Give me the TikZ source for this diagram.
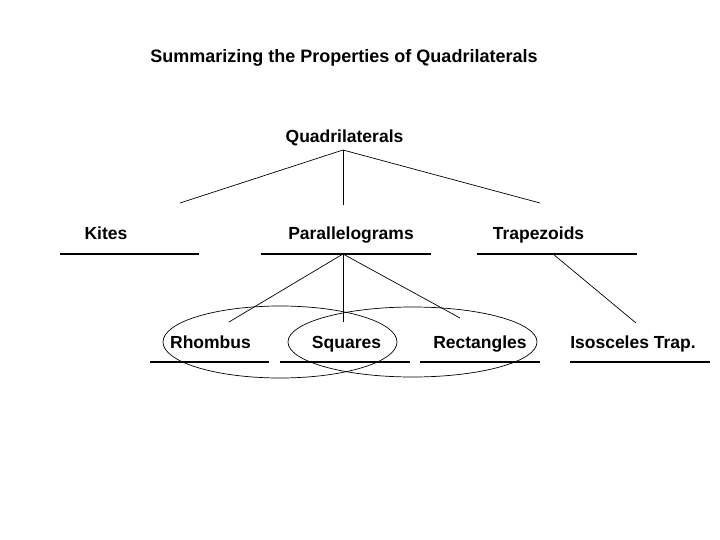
\documentclass[tikz,border=0pt]{standalone}
\usepackage{fontspec}
\setmainfont{Liberation Sans}
\usetikzlibrary{positioning}
\tikzset{
  kindtext/.style={font=\bfseries\fontsize{17.5}{21}\selectfont, anchor=base, inner sep=0pt},
  titletext/.style={kindtext, font=\bfseries\fontsize{18}{22}\selectfont},
  underbar/.style={line width=2pt},
  link/.style={line width=0.7pt}
}

\begin{document}
\begin{tikzpicture}[x=1pt, y=-1pt]
  \useasboundingbox[fill=white] (0,0) rectangle (720,540);
  % titles and kinds
  \node[titletext] (title) at (344,63) {Summarizing the Properties of Quadrilaterals};
  \node[kindtext] (quad)  at (344.5,143) {Quadrilaterals};
  \node[kindtext] (kites) at (106,240) {Kites};
  \node[kindtext] (para)  at (351,240) {Parallelograms};
  \node[kindtext] (trap)  at (538.5,240) {Trapezoids};
  \node[kindtext] (rhomb) at (210.5,348) {Rhombus};
  \node[kindtext] (squ)   at (346.5,348) {Squares};
  \node[kindtext] (rect)  at (480,348) {Rectangles};
  \node[kindtext] (iso)   at (633,348) {Isosceles Trap.};

  % underlines
  \draw[underbar] (60,254) coordinate (kitesL) -- (199,254) coordinate (kitesR);
  \draw[underbar] (261,254) coordinate (paraL) -- (431,254) coordinate (paraR);
  \draw[underbar] (477,254) coordinate (trapL) -- (637,254) coordinate (trapR);
  \draw[underbar] (150,362) coordinate (rhombL) -- (269,362) coordinate (rhombR);
  \draw[underbar] (280,362) coordinate (squL) -- (410,362) coordinate (squR);
  \draw[underbar] (420,362) coordinate (rectL) -- (540,362) coordinate (rectR);
  \draw[underbar] (570,362) coordinate (isoL) -- (710,362) coordinate (isoR);

  % branch points
  \coordinate (qroot) at (343,150);
  \coordinate (qkites) at (180,203);
  \coordinate (qpara) at (343,205);
  \coordinate (qtrap) at (540,203);
  \coordinate (proot) at (343,254);
  \coordinate (prhomb) at (229,322);
  \coordinate (psqu) at (343,322);
  \coordinate (prect) at (460,318);
  \coordinate (troot) at (553,254);
  \coordinate (tiso) at (636,323);

  \draw[link] (qroot) -- (qkites);
  \draw[link] (qroot) -- (qpara);
  \draw[link] (qroot) -- (qtrap);
  \draw[link] (proot) -- (prhomb);
  \draw[link] (proot) -- (psqu);
  \draw[link] (proot) -- (prect);
  \draw[link] (troot) -- (tiso);

  % overlapping groups
  \draw[link] (280,342) ellipse [x radius=117pt, y radius=36pt];
  \draw[link] (412.5,342) ellipse [x radius=124.5pt, y radius=35pt];
\end{tikzpicture}
\end{document}
